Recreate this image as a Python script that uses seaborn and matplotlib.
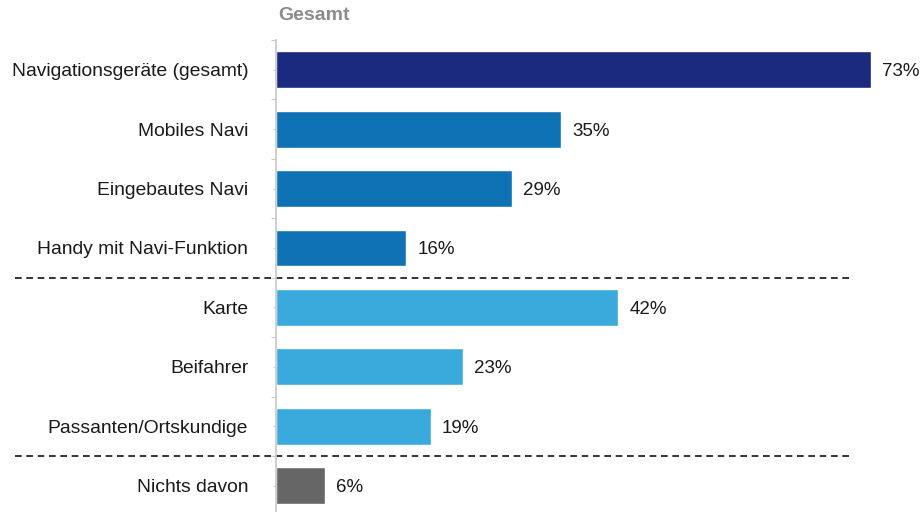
import matplotlib
matplotlib.use("Agg")
import matplotlib.pyplot as plt
import seaborn as sns
import pandas as pd
import numpy as np

categories = [
    "Navigationsgeräte (gesamt)",
    "Mobiles Navi",
    "Eingebautes Navi",
    "Handy mit Navi-Funktion",
    "Karte",
    "Beifahrer",
    "Passanten/Ortskundige",
    "Nichts davon",
]
values = [73, 35, 29, 16, 42, 23, 19, 6]
groups = ["total", "navi", "navi", "navi", "other", "other", "other", "none"]
group_colors = {"total": "#1b2a7f", "navi": "#0f72b5", "other": "#3aaadc", "none": "#666666"}

df = pd.DataFrame({"Kategorie": categories, "Anteil": values, "Gruppe": groups})

sns.set_theme(style="white")
plt.rcParams["font.family"] = ["Liberation Sans", "DejaVu Sans"]

fig = plt.figure(figsize=(9.21, 5.12), dpi=100)
ax = fig.add_axes([276 / 921, -3.4 / 512, 645 / 921, 475.4 / 512])

sns.barplot(data=df, x="Anteil", y="Kategorie", hue="Gruppe", palette=group_colors,
            dodge=False, legend=False, width=0.62, ax=ax, saturation=1)

ax.set_xlim(0, 645 / 8.15)
ax.set_ylim(len(categories) - 0.5, -0.5)
ax.set_xlabel("")
ax.set_ylabel("")
ax.set_xticks([])

for i, v in enumerate(values):
    ax.text(v + 1.35, i, f"{v}%", va="center_baseline", ha="left", fontsize=13.5,
            color="#1a1a1a")

# short ticks at bar centres, slightly longer ones at row boundaries
ax.set_yticks(np.arange(-0.5, len(categories), 1.0), minor=True)
ax.tick_params(axis="y", which="major", length=2, width=0.8, color="#cccccc", pad=18,
               labelsize=13.9, labelcolor="#1a1a1a", left=True)
ax.tick_params(axis="y", which="minor", length=3.5, width=0.8, color="#cccccc", left=True)
for s in ["top", "right", "bottom"]:
    ax.spines[s].set_visible(False)
ax.spines["left"].set_color("#cccccc")
ax.spines["left"].set_linewidth(1.3)

# dashed separators between groups
trans = ax.get_yaxis_transform()
x0 = (15 - 276) / 645
x1 = (852 - 276) / 645
for yb in [3.5, 6.5]:
    ax.plot([x0, x1], [yb, yb], transform=trans, color="#111111", linestyle=(0, (4, 2.8)),
            linewidth=1.2, clip_on=False)

fig.text(278 / 921, 1 - 16 / 512, "Gesamt", fontsize=14, fontweight="bold",
         color="#8c8c8c", ha="left", va="center")

fig.savefig("out.png", dpi=100)
